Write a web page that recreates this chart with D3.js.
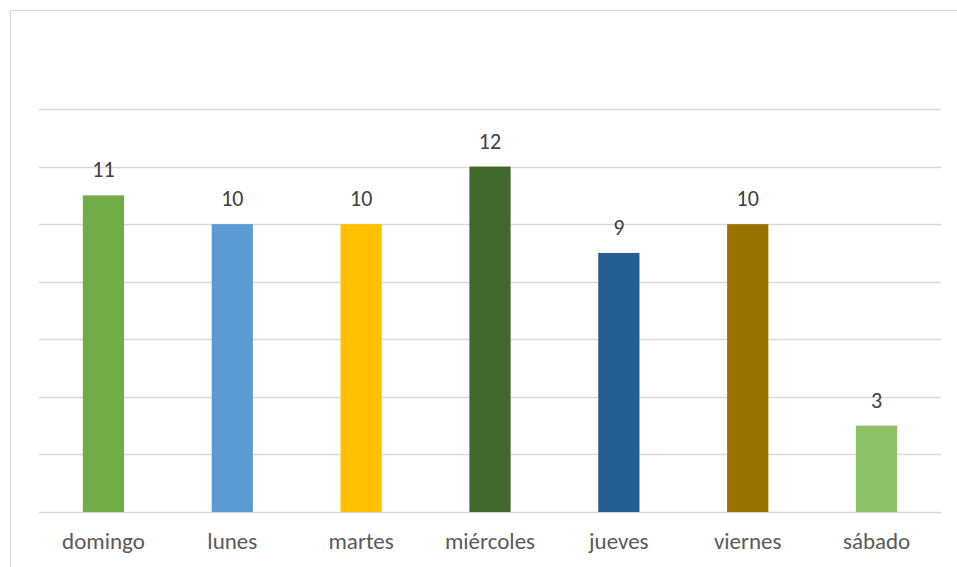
<!DOCTYPE html>
<html>
<head>
<meta charset="utf-8">
<script src="https://cdn.jsdelivr.net/npm/d3@7"></script>
<style>
  body { margin: 0; background: #fff; }
  svg text { font-family: Carlito, Lato, "Open Sans", sans-serif; }
</style>
</head>
<body>
<div id="chart"></div>
<script>
var days = ["domingo", "lunes", "martes", "miércoles", "jueves", "viernes", "sábado"];
var counts = [11, 10, 10, 12, 9, 10, 3];
var colors = ["#70ad47", "#5b9bd5", "#ffc000", "#43682b", "#255e91", "#997300", "#8cc168"];
var yTicks = [0, 2, 4, 6, 8, 10, 12, 14];

var W = 957, H = 567;
var margin = {top: 109, right: 16, bottom: 55, left: 39};
var width = W - margin.left - margin.right,
    height = H - margin.top - margin.bottom;

var svg = d3.select("#chart").append("svg")
  .attr("width", W)
  .attr("height", H);

// chart frame (only left/top edges are in view)
svg.append("rect")
  .attr("x", 10.5).attr("y", 10.5)
  .attr("width", W + 20).attr("height", H + 20)
  .attr("fill", "none")
  .attr("stroke", "#d9d9d9");

var g = svg.append("g")
  .attr("transform", "translate(" + margin.left + "," + margin.top + ")");

var x = d3.scaleBand().domain(days).range([0, width]).paddingInner(0.68).paddingOuter(0.34);
var y = d3.scaleLinear().domain([0, 14]).range([height, 0]);

g.selectAll("line.grid")
  .data(yTicks)
  .enter().append("line")
  .attr("class", "grid")
  .attr("x1", 0).attr("x2", width)
  .attr("y1", function(d) { return Math.round(y(d)) + 0.5; })
  .attr("y2", function(d) { return Math.round(y(d)) + 0.5; })
  .attr("stroke", "#d9d9d9")
  .attr("stroke-width", 1.3);

g.selectAll("rect.bar")
  .data(counts)
  .enter().append("rect")
  .attr("class", "bar")
  .attr("x", function(d, i) { return x(days[i]); })
  .attr("width", x.bandwidth())
  .attr("y", function(d) { return y(d); })
  .attr("height", function(d) { return y(0) - y(d); })
  .attr("fill", function(d, i) { return colors[i]; });

g.selectAll("text.val")
  .data(counts)
  .enter().append("text")
  .attr("class", "val")
  .attr("x", function(d, i) { return x(days[i]) + x.bandwidth() / 2; })
  .attr("y", function(d) { return y(d) - 18; })
  .attr("text-anchor", "middle")
  .attr("font-size", 22)
  .attr("fill", "#404040")
  .text(function(d) { return d; });

var xAxis = d3.axisBottom(x).tickSize(0).tickPadding(21);
var ax = g.append("g")
  .attr("transform", "translate(0," + height + ")")
  .call(xAxis);
ax.select(".domain").remove();
ax.selectAll("text")
  .attr("font-size", 23)
  .attr("fill", "#595959");
</script>
</body>
</html>
